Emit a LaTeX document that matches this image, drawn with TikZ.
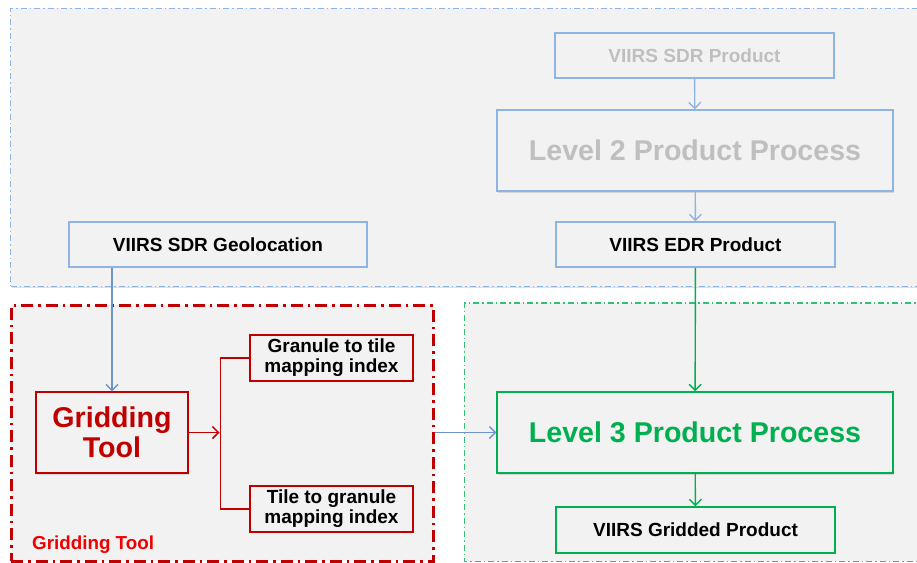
\documentclass[tikz,border=0pt]{standalone}
\usepackage{fontspec}
\setmainfont{Liberation Sans}
\usetikzlibrary{arrows.meta,shadows}
\definecolor{panelfill}{HTML}{F2F2F2}
\definecolor{lblue}{HTML}{8EB4E3}
\definecolor{ablue}{HTML}{6F93CB}
\definecolor{dred}{HTML}{C00000}
\definecolor{lred}{HTML}{F00000}
\definecolor{dgreen}{HTML}{00B050}
\definecolor{pgreen}{HTML}{33C070}
\definecolor{ltgray}{HTML}{BFBFBF}
\tikzset{
  panel/.style={fill=panelfill, inner sep=0pt},
  dashdot/.style={dash pattern=on 6pt off 3pt on 1.5pt off 3pt},
  dashdotbig/.style={dash pattern=on 12pt off 5pt on 2.5pt off 5pt},
  box/.style={draw, fill=panelfill, line width=1.5pt, inner sep=0pt, align=center, font=\bfseries\fontsize{19}{20}\selectfont},
  bigbox/.style={box, font=\bfseries\fontsize{28.6}{30}\selectfont},
  shad/.style={drop shadow={shadow xshift=1pt, shadow yshift=-1.5pt, opacity=0.25}},
  arr/.style={-{Straight Barb[length=6pt,width=12pt]}, line width=1.4pt},
}
\begin{document}
\begin{tikzpicture}[x=1pt,y=-1pt]
\useasboundingbox (0,0) rectangle (917,562);
\clip (0,0) rectangle (917,562);
\fill[white] (0,0) rectangle (917,562);
% panels
\node[panel, draw=lblue, line width=1.3pt, dashdot, shad, minimum width=915pt, minimum height=278.5pt, anchor=north west] (toppanel) at (10,7.5) {};
\node[panel, draw=dred, line width=2.6pt, dashdotbig, minimum width=422pt, minimum height=256pt, anchor=north west] (redpanel) at (10,304) {};
\node[panel, minimum width=460pt, minimum height=258pt, anchor=north west] (greenpanel) at (464.5,303) {};
\draw[pgreen, line width=1.5pt, dashdot] (greenpanel.north east) -- (greenpanel.north west) -- (greenpanel.south west) -- (greenpanel.south east);
% top boxes
\node[box, draw=lblue, text=ltgray, minimum width=279pt, minimum height=45pt] (sdr) at (694.5,55.5) {VIIRS SDR Product};
\node[bigbox, draw=lblue, text=ltgray, shad, minimum width=396pt, minimum height=81pt] (l2) at (695,150.5) {Level 2 Product Process};
\node[box, draw=lblue, minimum width=279pt, minimum height=45pt] (edr) at (695.5,244.5) {VIIRS EDR Product};
\node[box, draw=lblue, minimum width=298pt, minimum height=45pt] (geo) at (218,244.5) {VIIRS SDR Geolocation};
% gridding tool
\node[bigbox, draw=dred, text=dred, shad, minimum width=152pt, minimum height=81pt, font=\bfseries\fontsize{28.6}{29.5}\selectfont] (grid) at (112,432.5) {Gridding\\Tool};
\node[box, draw=dred, line width=1.7pt, minimum width=163pt, minimum height=46pt] (g2t) at (331.5,358) {Granule to tile\\mapping index};
\node[box, draw=dred, line width=1.7pt, minimum width=163pt, minimum height=46pt] (t2g) at (331.5,509) {Tile to granule\\mapping index};
\node[anchor=west, text=lred, font=\bfseries\fontsize{18.8}{20}\selectfont, inner sep=0pt] (gtlabel) at (32,544.5) {Gridding Tool};
% level 3
\node[bigbox, draw=dgreen, text=dgreen, shad, minimum width=396pt, minimum height=81pt] (l3) at (695,432.5) {Level 3 Product Process};
\node[box, draw=dgreen, minimum width=279pt, minimum height=46pt] (gridded) at (695.5,530) {VIIRS Gridded Product};
% connectors
\draw[arr, lblue] (sdr) -- (l2);
\draw[arr, lblue] (l2) -- (edr);
\draw[arr, ablue] (grid.north |- geo.south) -- (grid.north);
\draw[arr, dgreen] (edr) -- (l3);
\draw[arr, dgreen] (l3) -- (gridded);
\draw[arr, ablue] (redpanel.east |- l3.west) -- (l3.west);
\coordinate (br) at (220.5,432.5);
\draw[arr, dred, line width=1.5pt] (grid.east) -- ([xshift=-1pt]br);
\draw[dred, line width=1.5pt] (g2t.west) -| (br) |- (t2g.west);
\end{tikzpicture}
\end{document}
